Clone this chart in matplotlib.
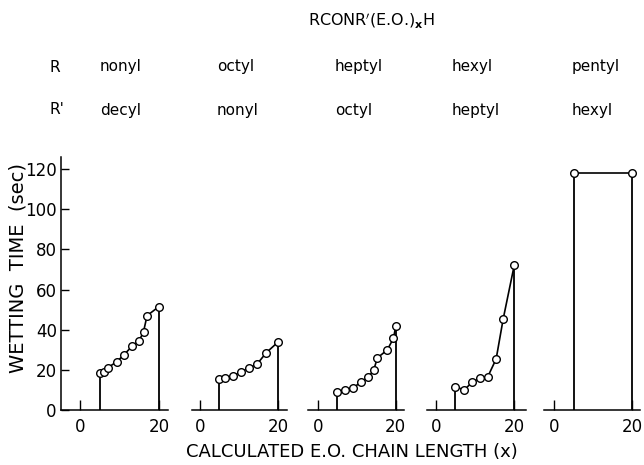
import matplotlib
matplotlib.use("Agg")
import matplotlib.pyplot as plt

plt.rcParams['font.family'] = ['DejaVu Sans']

# ---- data ----
r_groups = ["nonyl", "octyl", "heptyl", "hexyl", "pentyl"]
rp_groups = ["decyl", "nonyl", "octyl", "heptyl", "hexyl"]

x1 = [5, 6, 7, 9.3, 11.2, 13.3, 15, 16.1, 17, 20]
y1 = [18.2, 19, 21, 24, 27.6, 32, 34.5, 39, 47, 51.5]
x2 = [5, 6.4, 8.4, 10.5, 12.5, 14.6, 16.9, 20]
y2 = [15.3, 15.8, 16.9, 19.1, 20.9, 22.9, 28.5, 34]
x3 = [5, 7.1, 9.1, 11.1, 12.9, 14.3, 15.3, 17.8, 19.4, 20]
y3 = [9, 10, 11.1, 13.9, 16.3, 19.7, 26, 29.9, 35.7, 41.8]
x4 = [5, 7.3, 9.3, 11.2, 13.2, 15.4, 17.2, 20]
y4 = [11.6, 10, 13.9, 15.9, 16.3, 25.4, 45.4, 72]
x5 = [5, 20]
y5 = [118, 118]
series = [(x1, y1), (x2, y2), (x3, y3), (x4, y4), (x5, y5)]

xticks = [0, 20]
yticks = [0, 20, 40, 60, 80, 100, 120]

# ---- layout (pixels) ----
W, H = 644, 465
fig = plt.figure(figsize=(W / 100, H / 100), dpi=100)

# (left px, right px, xmin, xmax)
panels = [(61, 168, -4.8, 22.3), (192, 287, -2.0, 22.2), (308, 404, -2.5, 22.1),
          (427, 526, -2.2, 23.0), (544, 640, -2.6, 22.0)]
y_top_px, y_bot_px = 157, 410

for i, ((l, r, xmn, xmx), (xs, ys)) in enumerate(zip(panels, series)):
    ax = fig.add_axes([l / W, (H - y_bot_px) / H, (r - l) / W, (y_bot_px - y_top_px) / H])
    ax.set_xlim(xmn, xmx)
    ax.set_ylim(0, 126)
    ax.patch.set_visible(False)
    for s in ['top', 'right']:
        ax.spines[s].set_visible(False)
    if i > 0:
        ax.spines['left'].set_visible(False)
        ax.set_yticks([])
    else:
        ax.set_yticks(yticks)
        ax.set_yticklabels([str(v) for v in yticks], fontsize=12)
        ax.tick_params(axis='y', direction='in', length=6, width=1, pad=3)
        ax.spines['left'].set_linewidth(1.1)
    ax.spines['bottom'].set_linewidth(1.1)
    ax.set_xticks(xticks)
    ax.set_xticklabels([str(v) for v in xticks], fontsize=12)
    ax.tick_params(axis='x', direction='in', length=7, width=1, pad=6)
    # vertical drop lines at ends
    ax.vlines([xs[0], xs[-1]], 0, [ys[0], ys[-1]], color='black', lw=1.3)
    ax.plot(xs, ys, color='black', lw=1.2, marker='o', ms=5.5,
            mfc='white', mec='black', mew=1.0, clip_on=False)

# ---- texts ----
fig.text(371 / W, 1 - 20 / H, "RCONR$'$(E.O.)$_\\mathbf{x}$H", fontsize=11.5,
         ha='center', va='center')
row_y = [67, 110]
fig.text(50 / W, 1 - row_y[0] / H, "R", fontsize=11, ha='left', va='center')
fig.text(50 / W, 1 - row_y[1] / H, "R'", fontsize=11, ha='left', va='center')
name_x = [100, 217, 335, 452, 572]
for nx, a, b in zip(name_x, r_groups, rp_groups):
    fig.text(nx / W, 1 - row_y[0] / H, a, fontsize=11, ha='left', va='center')
    fig.text(nx / W, 1 - row_y[1] / H, b, fontsize=11, ha='left', va='center')

fig.text(352 / W, 1 - 452 / H, "CALCULATED E.O. CHAIN LENGTH (x)", fontsize=13,
         ha='center', va='center')
fig.text(18 / W, 1 - 268 / H, "WETTING  TIME  (sec)", fontsize=14, rotation=90,
         ha='center', va='center')

fig.savefig("out.png", dpi=100)
